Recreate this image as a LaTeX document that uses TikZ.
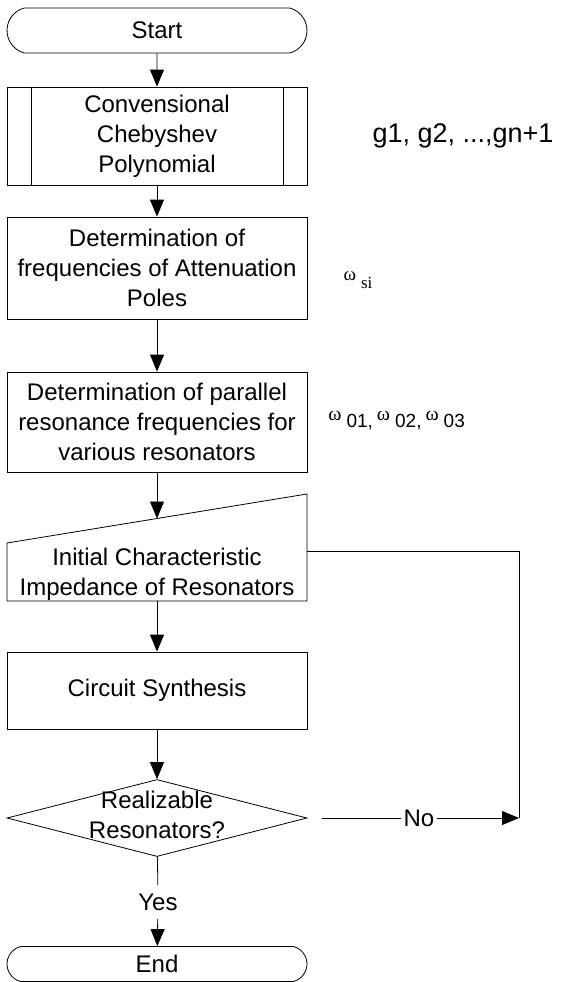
\documentclass[tikz,border=0pt]{standalone}
\usepackage{fontspec}
\setmainfont{Liberation Sans}
\newfontfamily\omegafont{Liberation Serif}
\usetikzlibrary{arrows.meta,shapes.misc,shapes.geometric,calc}
\newcommand\wsub[1]{{\omegafont\fontsize{20}{22}\selectfont ω}\hspace{5pt}\raisebox{-7pt}{\fontsize{19}{22}\selectfont #1}}
\begin{document}
\begin{tikzpicture}[x=1pt,y=-1pt,
  line width=0.8pt,
  every node/.style={font=\fontsize{24}{30}\selectfont, align=center, inner sep=0pt},
  arr/.style={-{Triangle[width=14pt,length=17pt]}},
  box/.style={draw, rectangle, minimum width=300pt},
  term/.style={draw, rounded rectangle, rounded rectangle arc length=150, minimum width=300pt}
]
\useasboundingbox (0,0) rectangle (562,982);

\node[term, minimum height=45pt] (start) at (157,30.5) {Start};
\node[box, minimum height=98pt] (pp) at (157,136) {Convensional\\Chebyshev\\Polynomial};
\draw ($(pp.north west)+(25,0)$) -- ($(pp.south west)+(25,0)$);
\draw ($(pp.north east)+(-24,0)$) -- ($(pp.south east)+(-24,0)$);
\node[box, minimum height=102pt] (b2) at (157,268) {Determination of\\frequencies of Attenuation\\Poles};
\node[box, minimum height=100pt] (b3) at (157,422) {Determination of parallel\\resonance frequencies for\\various resonators};

\coordinate (mine) at (307,494);
\coordinate (minw) at (7,543);
\coordinate (misw) at (7,601);
\coordinate (mise) at (307,601);
\draw (minw) -- (mine) -- (mise) -- (misw) -- cycle;
\node (mi) at (157,574) {Initial Characteristic\\Impedance of Resonators};
\coordinate (mitop) at (157,518.5);
\coordinate (mibot) at (157,601);
\coordinate (miright) at (307,551);

\node[box, minimum height=77pt] (cs) at (157,690.5) {Circuit Synthesis};
\node[draw, diamond, minimum width=300pt, minimum height=77pt] (dec) at (157,818) {};
\node (dectext) at (157,815) {Realizable\\Resonators?};
\node[inner ysep=8pt] (yes) at (158,902) {Yes};
\node[term, minimum height=35pt] (end) at (157,964) {End};

\node[inner xsep=2pt] (no) at (419,818) {No};
\coordinate (nostart) at (322,818);
\coordinate (loopc) at (519,818);

\node (g) at (463,136) {\fontsize{27}{30}\selectfont g1, g2, ...,gn+1};
\node (wsi) at (358,280) {{\omegafont\fontsize{19}{22}\selectfont ω}\hspace{5pt}\raisebox{-8pt}{\omegafont\fontsize{17}{20}\selectfont si}};
\node[anchor=west] (w0) at (328,421) {\wsub{01,}\hspace{4pt}\wsub{02,}\hspace{4pt}\wsub{03}};

\draw[arr] (start) -- (pp);
\draw[arr] (pp) -- (b2);
\draw[arr] (b2) -- (b3);
\draw[arr] (b3) -- (mitop);
\draw[arr] (mibot) -- (cs);
\draw[arr] (cs) -- (dec);
\draw (dec) -- (yes);
\draw[arr] (yes) -- (end);
\draw (nostart) -- (no);
\draw[arr] (no) -- (loopc);
\draw (miright) -| (loopc);
\end{tikzpicture}
\end{document}
